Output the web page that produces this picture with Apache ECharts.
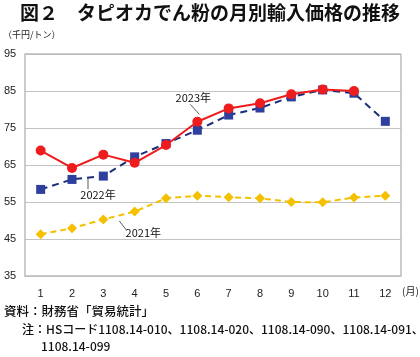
<!DOCTYPE html>
<html><head><meta charset="utf-8">
<script src="https://cdn.jsdelivr.net/npm/echarts@6/dist/echarts.min.js"></script>
<style>html,body{margin:0;padding:0;background:#fff}#c{width:420px;height:357px}</style>
</head><body><div id="c"></div>
<script>
var months = ['1','2','3','4','5','6','7','8','9','10','11','12'];
var y2023 = [68.9, 64.2, 67.8, 65.6, 70.4, 76.7, 80.3, 81.7, 84.1, 85.4, 85.0, null];
var y2022 = [58.4, 61.1, 62.0, 67.2, 70.8, 74.4, 78.5, 80.4, 83.4, 85.3, 84.4, 76.8];
var y2021 = [46.3, 47.9, 50.3, 52.4, 56.0, 56.7, 56.3, 56.0, 55.0, 54.9, 56.2, 56.7];
var yTicks = [35, 45, 55, 65, 75, 85, 95];

var F = '"Noto Sans CJK JP", "Liberation Sans", sans-serif';
var chart = echarts.init(document.getElementById('c'), null, {renderer:'canvas'});
var option = {
  animation: false,
  textStyle: {fontFamily: F},
  grid: {left: 25, right: 19, top: 54, bottom: 81},
  xAxis: {
    type: 'category', data: months, boundaryGap: true,
    axisLine: {show: true, lineStyle: {color: '#bbbbbb', width: 1.5}},
    axisTick: {show: false},
    axisLabel: {color: '#222', fontSize: 11, margin: 12, fontFamily: '"Liberation Sans", Arial, sans-serif'}
  },
  yAxis: {
    type: 'value', min: yTicks[0], max: yTicks[yTicks.length-1], interval: 10,
    axisLine: {show: true, lineStyle: {color: '#bbbbbb', width: 1.5}},
    axisTick: {show: false},
    splitLine: {lineStyle: {color: '#c4c4c4', width: 1.2}},
    axisLabel: {color: '#222', fontSize: 11, align: 'left', margin: 21, fontFamily: '"Liberation Sans", Arial, sans-serif'}
  },
  series: [
    {name: '2021年', type: 'line', data: y2021, symbol: 'diamond', symbolSize: 10,
     lineStyle: {color: '#f5c000', width: 2, type: [6, 4]}, itemStyle: {color: '#f5c000'}, z: 2},
    {name: '2022年', type: 'line', data: y2022, symbol: 'rect', symbolSize: 9,
     lineStyle: {color: '#1a2f78', width: 2, type: [7, 5]}, itemStyle: {color: '#2e3f9e'}, z: 3},
    {name: '2023年', type: 'line', data: y2023, symbol: 'circle', symbolSize: 10,
     lineStyle: {color: '#ee1c1c', width: 2}, itemStyle: {color: '#ee1c1c'}, z: 4}
  ]
};
chart.setOption(option);

var gl = 25, gr = 401, gt = 54, gb = 276;
function px(i, v) { return chart.convertToPixel({gridIndex: 0}, [i, v]); }
var p23 = px(5, 79.5), p22 = px(1, 58.2), p21 = px(2.4, 48.5);
var graphics = [
  {type: 'text', left: 20, top: 3, style: {text: '図２　タピオカでん粉の月別輸入価格の推移', font: 'bold 19px ' + F, fill: '#111'}},
  {type: 'text', left: 3, top: 30, style: {text: '（千円/トン）', font: '9px ' + F, fill: '#222'}},
  {type: 'line', shape: {x1: gl, y1: gt, x2: gr, y2: gt}, style: {stroke: '#bbbbbb', lineWidth: 1.5}},
  {type: 'line', shape: {x1: gr, y1: gt, x2: gr, y2: gb}, style: {stroke: '#bbbbbb', lineWidth: 1.5}},
  {type: 'text', left: 402, top: 286, style: {text: '(月)', font: '10px ' + F, fill: '#222'}},
  {type: 'text', x: p23[0] - 4, y: p23[1] - 14, style: {text: '2023年', font: '11px ' + F, fill: '#111', textAlign: 'center', textVerticalAlign: 'middle'}},
  {type: 'line', shape: {x1: p23[0] - 7, y1: p23[1] - 7, x2: p23[0] + 2, y2: p23[1] + 3}, style: {stroke: '#333', lineWidth: 0.8}},
  {type: 'text', x: p22[0] + 26, y: p22[1] + 5, style: {text: '2022年', font: '11px ' + F, fill: '#111', textAlign: 'center', textVerticalAlign: 'middle'}},
  {type: 'line', shape: {x1: p22[0] + 16, y1: p22[1] - 12, x2: p22[0] + 16, y2: p22[1] - 1}, style: {stroke: '#333', lineWidth: 0.8}},
  {type: 'text', x: p21[0] + 40, y: p21[1] + 7, style: {text: '2021年', font: '11px ' + F, fill: '#111', textAlign: 'center', textVerticalAlign: 'middle'}},
  {type: 'line', shape: {x1: p21[0] + 16, y1: p21[1] - 5, x2: p21[0] + 23, y2: p21[1] + 4}, style: {stroke: '#333', lineWidth: 0.8}},
  {type: 'text', left: 4, top: 305, style: {text: '資料：財務省「貿易統計」', font: '500 12.5px ' + F, fill: '#111'}},
  {type: 'text', left: 22, top: 323, style: {text: '注：HSコード1108.14-010、1108.14-020、1108.14-090、1108.14-091、', font: '500 12px ' + F, fill: '#111'}},
  {type: 'text', left: 41, top: 340, style: {text: '1108.14-099', font: '500 12px ' + F, fill: '#111'}}
];
chart.setOption({graphic: graphics});
</script></body></html>
